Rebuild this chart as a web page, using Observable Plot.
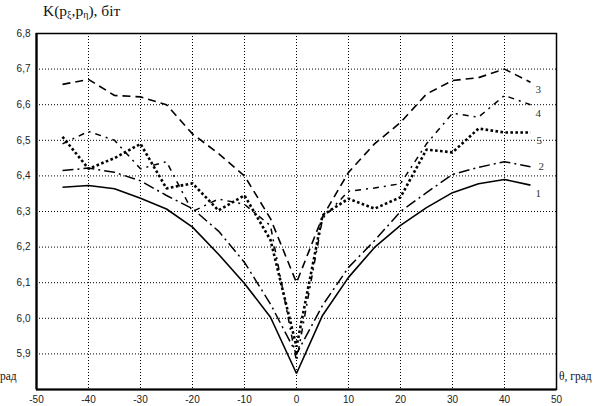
<!DOCTYPE html>
<html>
<head>
<meta charset="utf-8">
<script src="https://cdn.jsdelivr.net/npm/d3@7"></script>
<script src="https://cdn.jsdelivr.net/npm/@observablehq/plot@0.6"></script>
<style>
  html, body { margin: 0; padding: 0; background: #fff; }
  #wrap { position: relative; width: 606px; height: 406px; overflow: hidden; }
  .lbl { position: absolute; font-family: "Times New Roman", "Liberation Serif", "DejaVu Serif", serif; color: #111; white-space: nowrap; }
  #title { left: 43px; top: 2px; font-size: 15.5px; }
  #title sub { font-size: 10px; vertical-align: -2px; }
  #xlab { left: 559px; top: 370px; font-size: 11.5px; }
  #xlab2 { left: 0px; top: 370px; font-size: 11.5px; }
</style>
</head>
<body>
<div id="wrap">
  <div id="chart"></div>
  <div class="lbl" id="title">K(p<sub>ξ</sub>,p<sub>η</sub>), біт</div>
  <div class="lbl" id="xlab">θ, град</div>
  <div class="lbl" id="xlab2">рад</div>
</div>
<script>
const angles = [-45, -40, -35, -30, -25, -20, -15, -10, -5, 0, 5, 10, 15, 20, 25, 30, 35, 40, 45];
const k1 = [6.368, 6.373, 6.364, 6.337, 6.307, 6.256, 6.18, 6.098, 6.003, 5.845, 6.008, 6.115, 6.199, 6.261, 6.311, 6.353, 6.378, 6.390, 6.374];
const k2 = [6.415, 6.422, 6.41, 6.386, 6.345, 6.308, 6.245, 6.157, 6.04, 5.90, 6.036, 6.143, 6.218, 6.30, 6.353, 6.404, 6.424, 6.44, 6.426];
const k3 = [6.657, 6.671, 6.626, 6.622, 6.60, 6.518, 6.463, 6.40, 6.28, 6.10, 6.285, 6.41, 6.49, 6.55, 6.63, 6.668, 6.676, 6.70, 6.663];
const k4 = [6.49, 6.525, 6.50, 6.42, 6.44, 6.30, 6.335, 6.32, 6.26, 5.88, 6.28, 6.357, 6.366, 6.378, 6.49, 6.576, 6.565, 6.626, 6.60];
const k5 = [6.51, 6.42, 6.45, 6.49, 6.365, 6.379, 6.303, 6.345, 6.22, 5.92, 6.289, 6.336, 6.308, 6.34, 6.474, 6.466, 6.533, 6.522, 6.522];
const seriesNames = ["1", "2", "3", "4", "5"];
const xTicks = [-50, -40, -30, -20, -10, 0, 10, 20, 30, 40, 50];
const yTicks = [5.9, 6.0, 6.1, 6.2, 6.3, 6.4, 6.5, 6.6, 6.7, 6.8];

const series = [k1, k2, k3, k4, k5];
const styles = [
  {strokeWidth: 1.6, strokeDasharray: null},
  {strokeWidth: 1.5, strokeDasharray: "11,4,2,4"},
  {strokeWidth: 1.6, strokeDasharray: "8,5"},
  {strokeWidth: 1.5, strokeDasharray: "6,5,2,5"},
  {strokeWidth: 2.6, strokeDasharray: "2.6,2.4"}
];
const labelOffsets = [[5, 8], [8, 0], [5, 7], [5, 9], [6, 8]];

const last = angles.length - 1;
const labelData = series.map((s, i) => ({x: angles[last], y: s[last], name: seriesNames[i], dx: labelOffsets[i][0], dy: labelOffsets[i][1]}));

const marks = [
  Plot.gridX(xTicks, {stroke: "black", strokeOpacity: 1, strokeWidth: 1, strokeDasharray: "1,2"}),
  Plot.gridY(yTicks, {stroke: "black", strokeOpacity: 1, strokeWidth: 1, strokeDasharray: "1,2"}),
  Plot.axisX(xTicks, {label: null, tickSize: 0, tickPadding: 6, tickFormat: d => String(d), fontSize: 10, fontFamily: "Liberation Sans, Arial, sans-serif", fill: "#222"}),
  Plot.axisY(yTicks, {label: null, tickSize: 0, tickPadding: 6, tickFormat: d => d.toFixed(1).replace(".", ","), fontSize: 10, fontFamily: "Liberation Sans, Arial, sans-serif", fill: "#222"}),
  ...series.map((s, i) => Plot.line(angles, {x: angles, y: s, stroke: "black", strokeWidth: styles[i].strokeWidth, strokeDasharray: styles[i].strokeDasharray, strokeLinejoin: "miter", strokeLinecap: "butt"})),
  ...labelData.map(d => Plot.text([d], {x: "x", y: "y", text: "name", dx: d.dx, dy: d.dy, textAnchor: "start", fontSize: 11, fontFamily: "Times New Roman, Liberation Serif, serif", fill: "#333"})),
  Plot.frame({stroke: "black", strokeWidth: 1.5}),
  Plot.ruleX([-50], {stroke: "black", strokeWidth: 2.2}),
  Plot.ruleY([5.8], {stroke: "black", strokeWidth: 2.2})
];

const chart = Plot.plot({
  width: 606,
  height: 406,
  marginTop: 33,
  marginBottom: 17,
  marginLeft: 36,
  marginRight: 50,
  x: {domain: [-50, 50], label: null},
  y: {domain: [5.8, 6.8], label: null},
  style: {background: "white", overflow: "visible"},
  marks
});
document.getElementById("chart").appendChild(chart);
</script>
</body>
</html>
